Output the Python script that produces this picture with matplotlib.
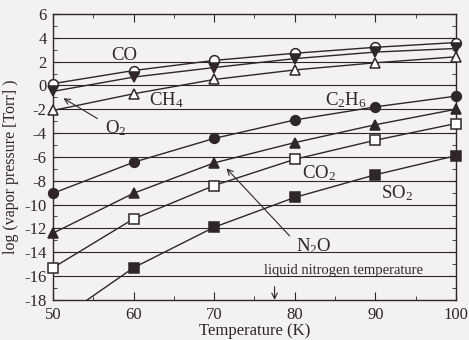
import matplotlib
matplotlib.use("Agg")
import matplotlib.pyplot as plt
from matplotlib.ticker import MultipleLocator

temps = [50, 60, 70, 80, 90, 100]
co = [0.15, 1.25, 2.1, 2.7, 3.2, 3.6]
o2 = [-0.5, 0.7, 1.5, 2.25, 2.8, 3.1]
ch4 = [-2.1, -0.7, 0.5, 1.3, 1.9, 2.4]
c2h6 = [-9.05, -6.45, -4.45, -2.9, -1.8, -0.9]
n2o = [-12.4, -9.05, -6.5, -4.8, -3.3, -2.0]
co2 = [-15.3, -11.2, -8.4, -6.2, -4.6, -3.2]
so2 = [-20.0, -15.3, -11.9, -9.4, -7.5, -5.9]
ln2_temp = 77.5

plt.rcParams['font.family'] = ['Liberation Serif', 'DejaVu Serif']
plt.rcParams['mathtext.fontset'] = 'custom'
plt.rcParams['mathtext.rm'] = 'Liberation Serif'
plt.rcParams['mathtext.it'] = 'Liberation Serif:italic'
plt.rcParams['axes.unicode_minus'] = False
ink = '#2e2628'
bg = '#f3f1f1'

fig = plt.figure(figsize=(4.69, 3.40), dpi=100, facecolor=bg)
ax = fig.add_axes([0.113, 0.118, 0.859, 0.841], facecolor=bg)

ymin, ymax = -18, 6
ms = 7
series = [
    (co, 'o', 'white'),
    (o2, 'v', ink),
    (ch4, '^', 'white'),
    (c2h6, 'o', ink),
    (n2o, '^', ink),
    (co2, 's', 'white'),
    (so2, 's', ink),
]
for vals, m, fc in series:
    ax.plot(temps, vals, color=ink, lw=1.0, zorder=3)
    xs = [t for t, v in zip(temps, vals) if ymin <= v <= ymax]
    ys = [v for v in vals if ymin <= v <= ymax]
    ax.plot(xs, ys, ls='none', marker=m, ms=ms, mfc=fc, mec=ink,
            mew=1.1, zorder=4, clip_on=False)

ax.set_xlim(50, 100)
ax.set_ylim(ymin, ymax)
for y in range(-16, 6, 2):
    ax.axhline(y, color=ink, lw=0.8, zorder=1)

ax.xaxis.set_major_locator(MultipleLocator(10))
ax.xaxis.set_minor_locator(MultipleLocator(5))
ax.yaxis.set_major_locator(MultipleLocator(2))
ax.yaxis.set_minor_locator(MultipleLocator(1))
ax.tick_params(which='both', direction='in', top=True, right=True,
               color=ink, labelcolor=ink, labelsize=12)
ax.tick_params(which='major', length=6)
ax.tick_params(which='minor', length=3)
ax.tick_params(axis='x', which='major', pad=5)
ax.tick_params(axis='y', which='major', pad=4.5)
for s in ax.spines.values():
    s.set_color(ink)
    s.set_linewidth(1.0)

ax.set_xlabel('Temperature (K)', fontsize=12, color=ink, labelpad=0)
ax.set_ylabel('log (vapor pressure [Torr] )', fontsize=11.5, color=ink)
ax.yaxis.set_label_coords(-0.085, 0.465)

fs = 13.5
kw = dict(fontsize=fs, color=ink, ha='center', va='center')
ax.text(58.9, 2.55, 'CO', **kw)
ax.text(64.1, -1.25, r'CH$_4$', **kw)
ax.text(86.3, -1.25, r'C$_2$H$_6$', **kw)
ax.text(83.0, -7.4, r'CO$_2$', **kw)
ax.text(92.7, -9.0, r'SO$_2$', **kw)
ax.text(57.8, -3.6, r'O$_2$', **kw)
ax.text(82.4, -13.45, r'N$_2$O', **kw)
ax.annotate('', xy=(51.0, -0.96), xytext=(55.8, -2.9),
            arrowprops=dict(arrowstyle='->', color=ink, lw=0.8))
ax.annotate('', xy=(71.3, -6.8), xytext=(79.6, -12.8),
            arrowprops=dict(arrowstyle='->', color=ink, lw=0.8))
ax.text(86.0, -15.5, 'liquid nitrogen temperature', fontsize=10.5,
        color=ink, ha='center', va='center')
ax.annotate('', xy=(ln2_temp, -18), xytext=(ln2_temp, -16.9),
            arrowprops=dict(arrowstyle='->', color=ink, lw=0.8,
                            shrinkA=0, shrinkB=0))

fig.savefig('out.png', dpi=100, facecolor=bg)
